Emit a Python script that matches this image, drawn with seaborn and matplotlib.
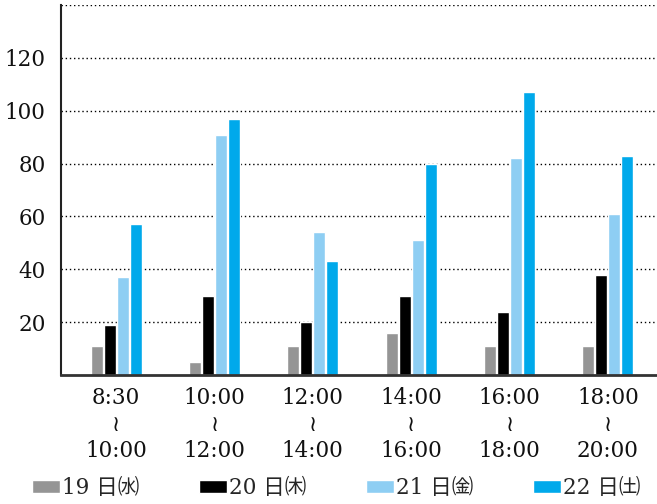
import matplotlib
matplotlib.use('Agg')
import matplotlib.pyplot as plt
import seaborn as sns
import pandas as pd

# dados
slots = ['8:30\n≀\n10:00', '10:00\n≀\n12:00', '12:00\n≀\n14:00',
         '14:00\n≀\n16:00', '16:00\n≀\n18:00', '18:00\n≀\n20:00']
days = ['19 日㈬', '20 日㈭', '21 日㈮', '22 日㈯']
d19 = [11, 5, 11, 16, 11, 11]
d20 = [19, 30, 20, 30, 24, 38]
d21 = [37, 91, 54, 51, 82, 61]
d22 = [57, 97, 43, 80, 107, 83]
yticks = [20, 40, 60, 80, 100, 120, 140]
ytick_labels = ['20', '40', '60', '80', '100', '120', '']
cores = ['#959595', '#000000', '#8ECEF3', '#00A9EB']

df = pd.DataFrame({
    'slot': slots * 4,
    'day': [d for d in days for _ in slots],
    'n': d19 + d20 + d21 + d22,
})

sns.set_style('white')
familias = ['DejaVu Serif', 'DejaVu Sans', 'Noto Sans CJK JP']
plt.rcParams['font.family'] = familias

fig, ax = plt.subplots(figsize=(6.57, 5.04), dpi=100)
fig.subplots_adjust(left=61/657, right=1.0, top=1 - 5/504, bottom=1 - 375/504)

sns.barplot(data=df, x='slot', y='n', hue='day', palette=cores, width=0.528,
            gap=0.08, saturation=1, ax=ax, order=slots, hue_order=days)

ax.set_xlim(-0.56, 5.5)
ax.set_ylim(0, 140)
ax.set_yticks(yticks)
ax.set_yticklabels(ytick_labels)
ax.set_xlabel('')
ax.set_ylabel('')
ax.tick_params(axis='both', length=0, labelsize=15.5, colors='#111111')
ax.tick_params(axis='y', pad=11)
ax.tick_params(axis='x', pad=9)
for lbl in ax.get_xticklabels():
    lbl.set_linespacing(1.25)
    lbl.set_family(familias)

ax.yaxis.grid(True, linestyle=(0, (1, 2)), color='black', linewidth=1)
ax.set_axisbelow(True)
for s in ['top', 'right']:
    ax.spines[s].set_visible(False)
ax.spines['left'].set_color('#222222')
ax.spines['left'].set_linewidth(1.5)
ax.spines['bottom'].set_color('#333333')
ax.spines['bottom'].set_linewidth(2)

handles, labels = ax.get_legend_handles_labels()
ax.get_legend().remove()
fig.legend(handles, labels, loc='center left', bbox_to_anchor=(32/657, 16/504),
           ncol=4, frameon=False, borderpad=0, borderaxespad=0,
           handlelength=1.3, handleheight=0.56, handletextpad=0.09,
           columnspacing=2.78,
           prop={'family': ['DejaVu Serif', 'Noto Sans CJK JP'], 'size': 15.5})

fig.savefig('out.png', dpi=100)
